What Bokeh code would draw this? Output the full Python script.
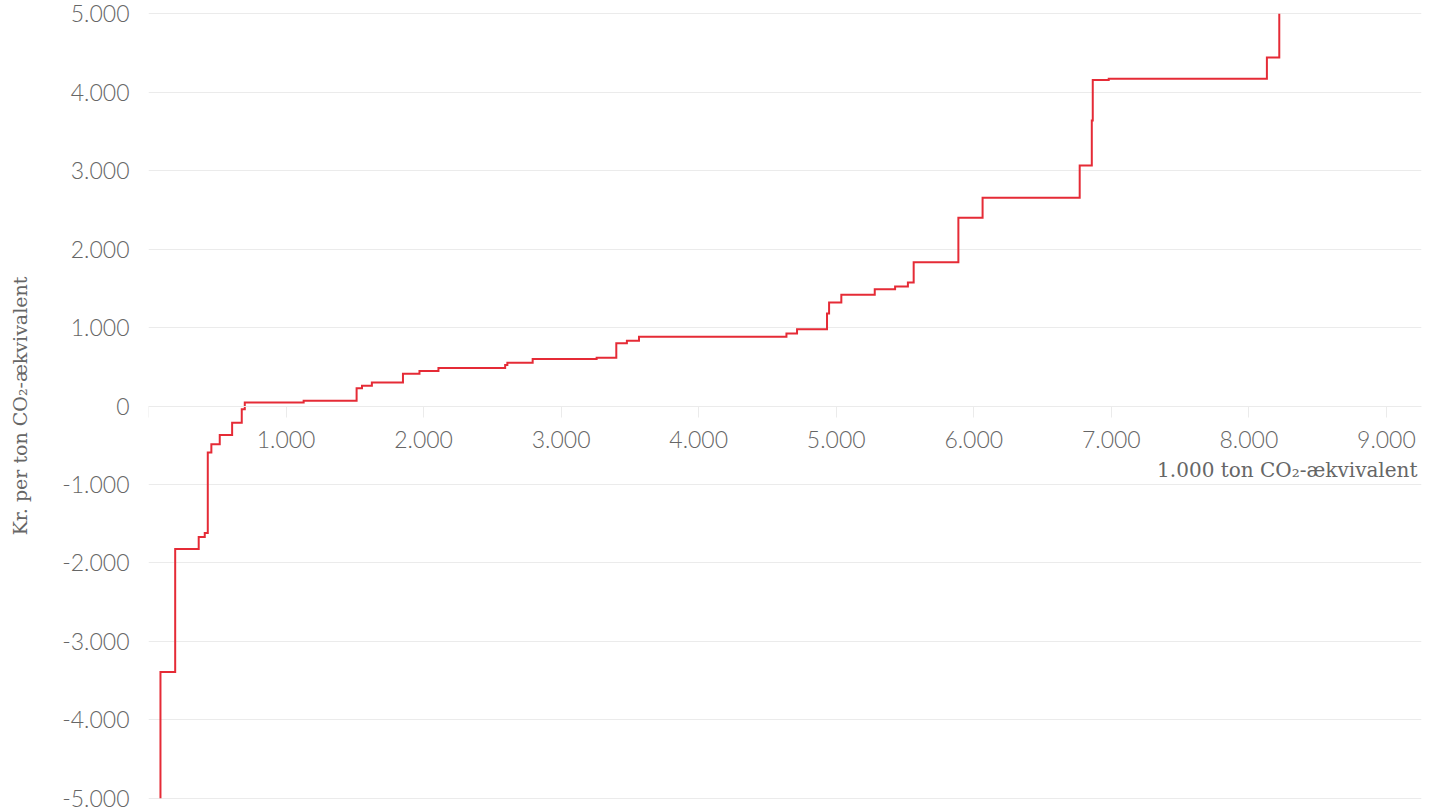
from bokeh.plotting import figure
from bokeh.models import Range1d, FixedTicker, Label
from bokeh.embed import file_html
from bokeh.resources import INLINE

# Step data: left edge of each measure (1.000 ton CO2-eq, cumulative) and its cost (kr./ton)
step_start = [87, 194, 365, 409, 431, 457, 518, 608, 678, 700, 1128, 1513, 1552, 1624,
              1850, 1970, 2108, 2593, 2609, 2793, 3258, 3401, 3478, 3566, 4638, 4715,
              4933, 4948, 5037, 5280, 5428, 5521, 5563, 5888, 6064, 6770, 6858, 6865,
              6981, 8131]
step_cost = [-3390, -1823, -1670, -1620, -594, -487, -369, -212, -42, 45, 67, 225, 258, 301,
             411, 445, 483, 522, 551, 598, 615, 800, 831, 882, 925, 980,
             1179, 1319, 1419, 1489, 1525, 1574, 1834, 2400, 2655, 3066, 3639, 4156,
             4173, 4444]
end_x = 8221
start_cost = -5000
end_cost = 5000

x_ticks = [0, 1000, 2000, 3000, 4000, 5000, 6000, 7000, 8000, 9000]
x_tick_labels = ["", "1.000", "2.000", "3.000", "4.000", "5.000", "6.000", "7.000", "8.000", "9.000"]
y_ticks = [-5000, -4000, -3000, -2000, -1000, 0, 1000, 2000, 3000, 4000, 5000]
y_tick_labels = ["-5.000", "-4.000", "-3.000", "-2.000", "-1.000", "0", "1.000", "2.000", "3.000", "4.000", "5.000"]

x_title = "1.000 ton CO\u2082-ækvivalent"
y_title = "Kr. per ton CO\u2082-ækvivalent"

GRAY = "#666666"
LIGHT = "#ebebeb"
RED = "#e52b36"
TICK_FONT = "Lato Light"
TITLE_FONT = "DejaVu Serif"

p = figure(width=1432, height=811, output_backend="svg", toolbar_location=None,
           x_range=Range1d(0, 9255), y_range=Range1d(-5030, 5030),
           min_border_left=148, min_border_right=11, min_border_top=11, min_border_bottom=11,
           background_fill_color="white", border_fill_color="white")
p.outline_line_color = None

xs = [step_start[0]] + step_start + [end_x]
ys = [start_cost] + step_cost + [end_cost]
p.step(x=xs, y=ys, mode="after", line_color=RED, line_width=2, line_join="miter")

# grid
p.xgrid.visible = False
p.ygrid.ticker = FixedTicker(ticks=y_ticks)
p.ygrid.grid_line_color = LIGHT
p.ygrid.grid_line_width = 1

# x axis at y = 0
xa = p.xaxis[0]
xa.fixed_location = 0
xa.ticker = FixedTicker(ticks=x_ticks)
xa.major_label_overrides = {t: l for t, l in zip(x_ticks, x_tick_labels)}
xa.axis_line_color = LIGHT
xa.major_tick_line_color = LIGHT
xa.major_tick_in = 0
xa.major_tick_out = 11
xa.minor_tick_line_color = None
xa.major_label_standoff = 14
xa.major_label_text_font = TICK_FONT
xa.major_label_text_font_size = "23px"
xa.major_label_text_color = GRAY

# y axis
ya = p.yaxis[0]
ya.ticker = FixedTicker(ticks=y_ticks)
ya.major_label_overrides = {t: l for t, l in zip(y_ticks, y_tick_labels)}
ya.axis_line_color = None
ya.major_tick_line_color = None
ya.minor_tick_line_color = None
ya.major_label_standoff = 13
ya.major_label_text_font = TICK_FONT
ya.major_label_text_font_size = "23px"
ya.major_label_text_color = GRAY
ya.axis_label = y_title
ya.axis_label_text_font = TITLE_FONT
ya.axis_label_text_font_size = "19px"
ya.axis_label_text_font_style = "normal"
ya.axis_label_text_color = GRAY
ya.axis_label_standoff = 28

# x-axis title, right aligned under the tick labels
p.add_layout(Label(x=9255, y=0, text=x_title, x_offset=-4, y_offset=-64,
                   text_align="right", text_baseline="middle", text_font=TITLE_FONT,
                   text_font_size="20px", text_color=GRAY))

open("out.html", "w").write(file_html(p, INLINE))
